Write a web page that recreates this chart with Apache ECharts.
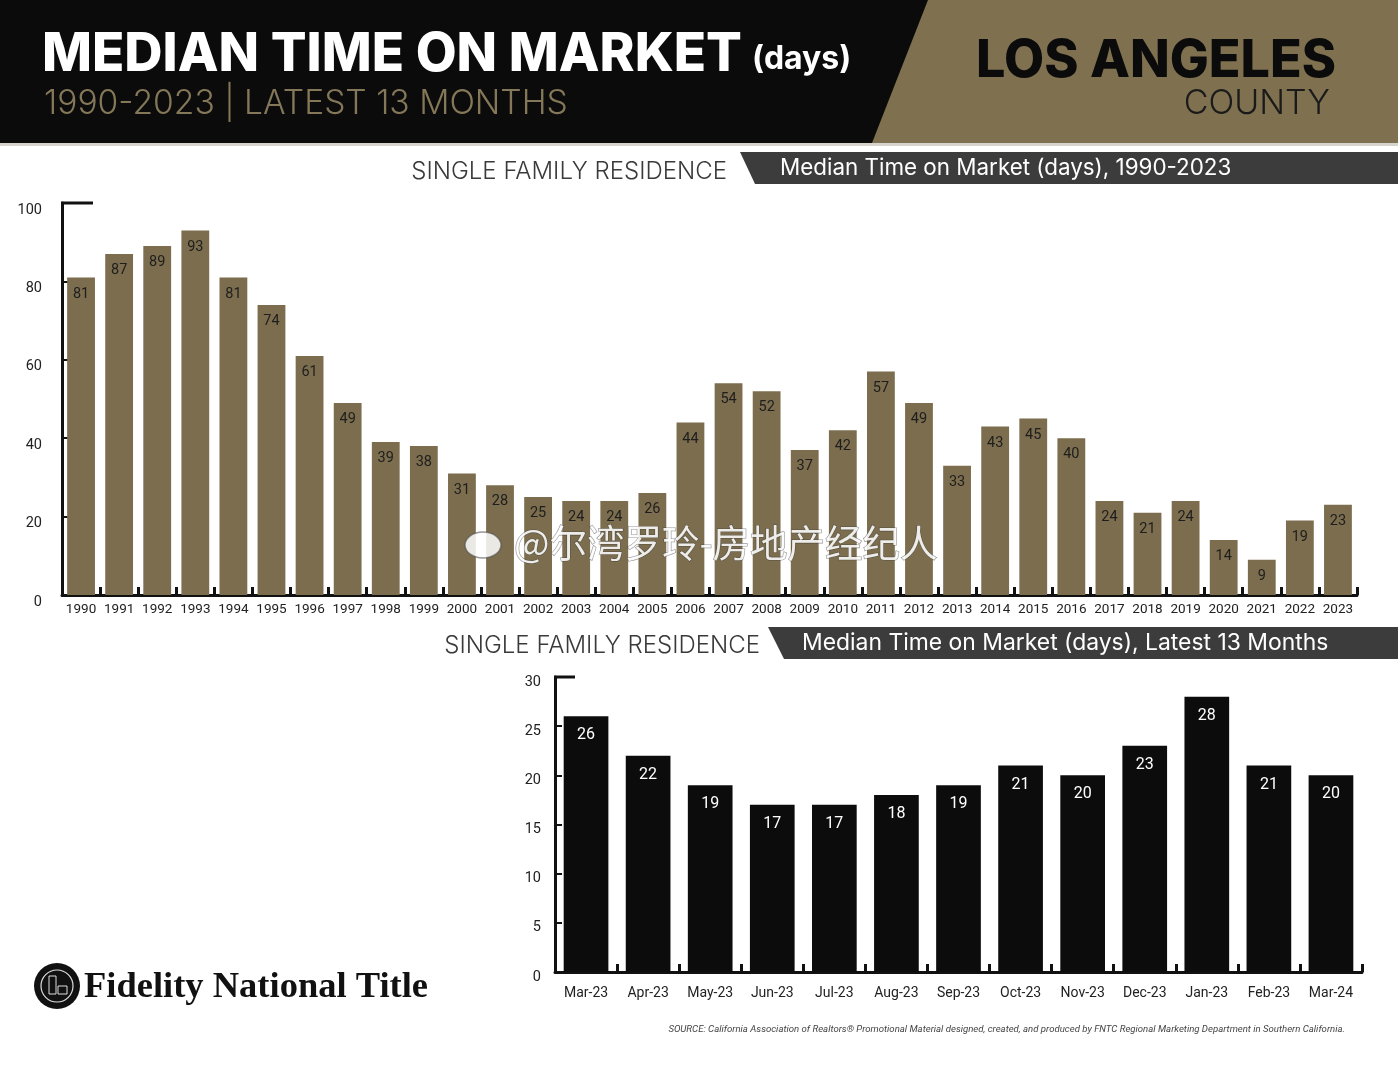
<!DOCTYPE html>
<html><head><meta charset="utf-8">
<script src="https://cdn.jsdelivr.net/npm/echarts@6/dist/echarts.min.js"></script>
<style>html,body{margin:0;padding:0;background:#fff}#c{width:1398px;height:1080px}</style>
</head><body><div id="c"></div>
<script>
// ---- data ----
const years = ['1990','1991','1992','1993','1994','1995','1996','1997','1998','1999','2000','2001','2002','2003','2004','2005','2006','2007','2008','2009','2010','2011','2012','2013','2014','2015','2016','2017','2018','2019','2020','2021','2022','2023'];
const yearValues = [81,87,89,93,81,74,61,49,39,38,31,28,25,24,24,26,44,54,52,37,42,57,49,33,43,45,40,24,21,24,14,9,19,23];
const months = ['Mar-23','Apr-23','May-23','Jun-23','Jul-23','Aug-23','Sep-23','Oct-23','Nov-23','Dec-23','Jan-23','Feb-23','Mar-24'];
const monthValues = [26,22,19,17,17,18,19,21,20,23,28,21,20];
const topAxis = {min: 0, max: 100, interval: 20};
const bottomAxis = {min: 0, max: 30, interval: 5};

// ---- styling / layout ----
const NARROW = 'Roboto,"DejaVu Sans",sans-serif';
const HEAD = 'Inter,"Open Sans",sans-serif';
const GOLD = '#7b6d4d';
const g1 = {left: 62, top: 203, right: 41, height: 392};
const g2 = {left: 555, top: 677, right: 36, height: 295};

function xAx(grid, data, labelSize, margin) {
  return {
    type: 'category', gridIndex: grid, data: data, boundaryGap: true,
    axisLine: {lineStyle: {color: '#111', width: 3}},
    axisTick: {show: true, inside: true, length: 8, lineStyle: {color: '#111', width: 3}},
    axisLabel: {color: '#222', fontSize: labelSize, fontFamily: NARROW, margin: margin, interval: 0}
  };
}
function yAx(grid, ax, labelSize, lh, margin) {
  return {
    type: 'value', gridIndex: grid, min: ax.min, max: ax.max, interval: ax.interval,
    axisLine: {show: true, lineStyle: {color: '#111', width: 3}},
    axisTick: {show: true, inside: true, length: 7, lineStyle: {color: '#111', width: 2}},
    splitLine: {show: false},
    axisLabel: {color: '#222', fontSize: labelSize, fontFamily: NARROW, margin: margin, verticalAlign: 'top', lineHeight: lh}
  };
}

const chart = echarts.init(document.getElementById('c'), null, {renderer: 'canvas'});

const graphics = [
  {type: 'rect', shape: {x: 0, y: 0, width: 1398, height: 143}, style: {fill: '#0b0b0b'}, z: 0},
  {type: 'polygon', shape: {points: [[928, 0], [1398, 0], [1398, 143], [872, 143]]}, style: {fill: '#7f7150'}, z: 1},
  {type: 'rect', shape: {x: 0, y: 143, width: 1398, height: 3}, style: {fill: '#d6d3cd'}, z: 1},
  {type: 'text', x: 42, y: 55, style: {text: 'MEDIAN TIME ON MARKET', fill: '#fff', font: '800 53px ' + HEAD, verticalAlign: 'middle'}, z: 2},
  {type: 'text', x: 752, y: 59, style: {text: '(days)', fill: '#fff', font: '700 32px ' + HEAD, verticalAlign: 'middle'}, z: 2},
  {type: 'text', x: 44, y: 104, style: {text: '1990-2023 | LATEST 13 MONTHS', fill: '#857858', font: '300 33.6px ' + HEAD, verticalAlign: 'middle'}, z: 2},
  {type: 'text', x: 1336, y: 61, style: {text: 'LOS ANGELES', fill: '#0b0b0b', font: '800 52px ' + HEAD, align: 'right', verticalAlign: 'middle'}, z: 2},
  {type: 'text', x: 1330, y: 104, style: {text: 'COUNTY', fill: '#1a1a1a', font: '300 34px ' + HEAD, align: 'right', verticalAlign: 'middle'}, z: 2},

  // banner 1
  {type: 'text', x: 727, y: 172, style: {text: 'SINGLE FAMILY RESIDENCE', fill: '#3a3a3a', font: '300 24px ' + HEAD, align: 'right', verticalAlign: 'middle'}, z: 2},
  {type: 'polygon', shape: {points: [[740, 152], [1398, 152], [1398, 184], [755, 184]]}, style: {fill: '#3c3c3c'}, z: 1},
  {type: 'text', x: 780, y: 168, style: {text: 'Median Time on Market (days), 1990-2023', fill: '#fff', font: '400 22.4px ' + HEAD, verticalAlign: 'middle'}, z: 2},
  // banner 2
  {type: 'text', x: 760, y: 646, style: {text: 'SINGLE FAMILY RESIDENCE', fill: '#3a3a3a', font: '300 24px ' + HEAD, align: 'right', verticalAlign: 'middle'}, z: 2},
  {type: 'polygon', shape: {points: [[768, 627], [1398, 627], [1398, 659], [784, 659]]}, style: {fill: '#3c3c3c'}, z: 1},
  {type: 'text', x: 802, y: 643, style: {text: 'Median Time on Market (days), Latest 13 Months', fill: '#fff', font: '400 22.9px ' + HEAD, verticalAlign: 'middle'}, z: 2},

  // axis top caps
  {type: 'line', shape: {x1: g1.left - 1, y1: g1.top, x2: g1.left + 31, y2: g1.top}, style: {stroke: '#111', lineWidth: 3}, z: 5},
  {type: 'line', shape: {x1: g2.left - 1, y1: g2.top, x2: g2.left + 20, y2: g2.top}, style: {stroke: '#111', lineWidth: 3}, z: 5},

  // logo
  {type: 'circle', shape: {cx: 57, cy: 986, r: 23}, style: {fill: '#111'}, z: 2},
  {type: 'circle', shape: {cx: 57, cy: 986, r: 16}, style: {fill: 'none', stroke: '#ddd', lineWidth: 1.2}, z: 3},
  {type: 'rect', shape: {x: 49, y: 976, width: 7, height: 18}, style: {fill: 'none', stroke: '#ddd', lineWidth: 1}, z: 3},
  {type: 'rect', shape: {x: 58, y: 986, width: 9, height: 8}, style: {fill: 'none', stroke: '#ddd', lineWidth: 1}, z: 3},
  {type: 'text', x: 84, y: 988, style: {text: 'Fidelity National Title', fill: '#111', font: '700 36.5px "Liberation Serif","Times New Roman",serif', verticalAlign: 'middle'}, z: 2},

  // source
  {type: 'text', x: 1345, y: 1030, style: {text: 'SOURCE: California Association of Realtors® Promotional Material designed, created, and produced by FNTC Regional Marketing Department in Southern California.', fill: '#444', font: 'italic 9.6px ' + NARROW, align: 'right', verticalAlign: 'middle'}, z: 2},

  // watermark
  {type: 'ellipse', shape: {cx: 483, cy: 545, rx: 18, ry: 13}, style: {fill: 'rgba(255,255,255,0.85)', stroke: 'rgba(80,80,80,0.6)', lineWidth: 1.5}, z: 20},
  {type: 'text', x: 514, y: 543, style: {text: '@尔湾罗玲-房地产经纪人', fill: 'rgba(255,255,255,0.88)', stroke: 'rgba(60,60,60,0.55)', lineWidth: 1.2, font: '400 37.5px "Noto Sans CJK SC",sans-serif', verticalAlign: 'middle'}, z: 20}
];

chart.setOption({
  animation: false,
  backgroundColor: '#fff',
  grid: [
    {left: g1.left, top: g1.top, right: g1.right, height: g1.height},
    {left: g2.left, top: g2.top, right: g2.right, height: g2.height}
  ],
  xAxis: [xAx(0, years, 13.5, 8), xAx(1, months, 14, 14)],
  yAxis: [yAx(0, topAxis, 14.5, 14, 20), yAx(1, bottomAxis, 14.5, 10, 14)],
  series: [
    {type: 'bar', xAxisIndex: 0, yAxisIndex: 0, data: yearValues, barWidth: '73%',
     itemStyle: {color: GOLD},
     label: {show: true, position: 'insideTop', distance: 9, color: '#1e1e1e', fontSize: 14.5, fontFamily: NARROW}},
    {type: 'bar', xAxisIndex: 1, yAxisIndex: 1, data: monthValues, barWidth: '72%',
     itemStyle: {color: '#0c0c0c'},
     label: {show: true, position: 'insideTop', distance: 11, color: '#fff', fontSize: 16, fontFamily: NARROW}}
  ],
  graphic: graphics
});
</script>
</body></html>
